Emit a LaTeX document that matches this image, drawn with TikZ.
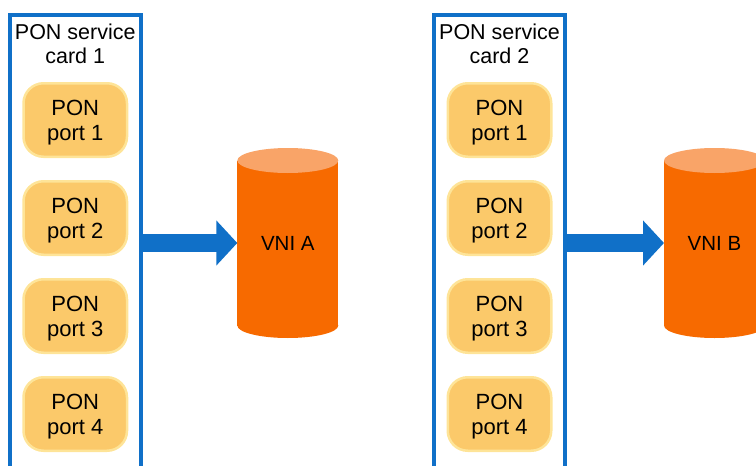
\documentclass[tikz,border=0pt]{standalone}
\usepackage{fontspec}
\setmainfont{Liberation Sans}
\usetikzlibrary{calc, positioning, backgrounds, arrows.meta}

\definecolor{cardblue}{RGB}{16,112,200}
\definecolor{portfill}{RGB}{251,201,106}
\definecolor{portline}{RGB}{254,228,152}
\definecolor{vnibody}{RGB}{247,106,0}
\definecolor{vnitop}{RGB}{249,164,104}

\begin{document}
\begin{tikzpicture}[x=1pt, y=-1pt,
  card/.style={draw=cardblue, line width=4.5pt, minimum width=131pt, minimum height=485pt, inner sep=0pt},
  cardtitle/.style={anchor=north, inner sep=0pt, align=center, font=\fontsize{21.5}{24}\selectfont},
  port/.style={fill=portfill, draw=portline, line width=2.5pt, rounded corners=20pt,
    minimum width=103.5pt, minimum height=73.5pt, inner sep=0pt, text depth=0pt, align=center,
    font=\fontsize{22}{25}\selectfont},
  vni/.style={minimum width=101pt, minimum height=190pt, inner sep=0pt, outer sep=0pt,
    font=\fontsize{20.5}{24}\selectfont},
  flow/.style={draw=cardblue, line width=18pt, -{Triangle[length=21pt, width=44pt]}}]
  \clip (0,0) rectangle (756,466);

  % service cards with their ports
  \foreach \c/\x in {1/75.25, 2/499.5} {
    \node[card] (card\c) at (\x,257.5) {};
    \node[cardtitle] (title\c) at (\x,23.5) {PON service\\card \c};
    \foreach \p/\y in {1/120, 2/218, 3/316, 4/414}
      \node[port] (port\c\p) at (\x,\y) {PON\\port \p};
  }

  % VNIs, drawn as cylinders behind their labels
  \node[vni] (vniA) at (287.8,243) {VNI A};
  \node[vni] (vniB) at (714.5,243) {VNI B};
  \begin{scope}[on background layer]
    \foreach \v in {vniA, vniB} {
      \fill[vnibody] ($(\v.north west)+(0,12.5)$) rectangle ($(\v.south east)+(0,-12.5)$);
      \fill[vnibody] ($(\v.south)+(0,-12.5)$) ellipse [x radius=50.5, y radius=12.5];
      \fill[vnitop] ($(\v.north)+(0,12.5)$) ellipse [x radius=50.5, y radius=12.5];
    }
  \end{scope}

  \draw[flow] (card1.east |- vniA) -- (vniA.west);
  \draw[flow] (card2.east |- vniB) -- (vniB.west);
\end{tikzpicture}
\end{document}
